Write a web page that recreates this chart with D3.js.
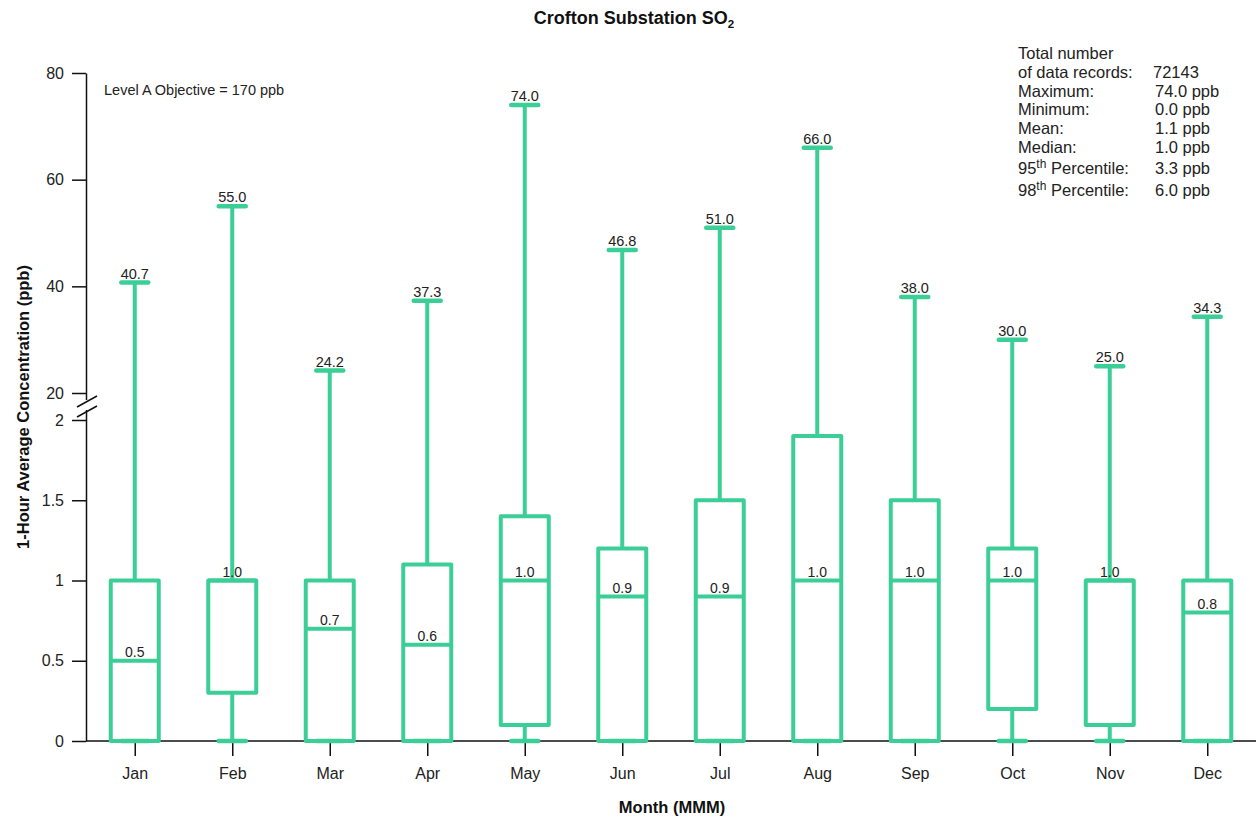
<!DOCTYPE html>
<html>
<head>
<meta charset="utf-8">
<script src="https://cdn.jsdelivr.net/npm/d3@7"></script>
<style>
  html, body { margin: 0; padding: 0; background: #fff; }
  svg { display: block; font-family: "Liberation Sans", Arial, sans-serif; }
</style>
</head>
<body>
<svg id="chart" width="1256" height="819"></svg>
<script>
// ---- data ----
const months = ["Jan","Feb","Mar","Apr","May","Jun","Jul","Aug","Sep","Oct","Nov","Dec"];
const minVals = [0,0,0,0,0,0,0,0,0,0,0,0];
const q1Vals = [0,0.3,0,0,0.1,0,0,0,0,0.2,0.1,0];
const medianVals = [0.5,1.0,0.7,0.6,1.0,0.9,0.9,1.0,1.0,1.0,1.0,0.8];
const q3Vals = [1.0,1.0,1.0,1.1,1.4,1.2,1.5,1.9,1.5,1.2,1.0,1.0];
const maxVals = [40.7,55.0,24.2,37.3,74.0,46.8,51.0,66.0,38.0,30.0,25.0,34.3];
const yTicks = [0,0.5,1,1.5,2,20,40,60,80];
const statLabels = ["Total number","of data records:","Maximum:","Minimum:","Mean:","Median:","95|th| Percentile:","98|th| Percentile:"];
const statValues = ["","72143","74.0 ppb","0.0 ppb","1.1 ppb","1.0 ppb","3.3 ppb","6.0 ppb"];
const objectiveText = "Level A Objective = 170 ppb";

// ---- layout ----
const svg = d3.select("#chart");
const left = 86, right = 1256;
const color = "#3bce96";
const textColor = "#222";

const x = d3.scalePoint().domain(months).range([left, right]).padding(0.5);
// broken axis: lower 0-2, upper 20-80
const y = d3.scaleLinear().domain([0, 2, 20, 80]).range([741, 420, 393, 73]);

const data = months.map((m, i) => ({
  m, min: minVals[i], q1: q1Vals[i], med: medianVals[i], q3: q3Vals[i], max: maxVals[i]
}));

// y axis
const yAxisG = svg.append("g").attr("transform", `translate(${left},0)`)
  .call(d3.axisLeft(y).tickValues(yTicks).tickFormat(d => String(d)).tickSize(14).tickSizeOuter(0).tickPadding(8));
yAxisG.selectAll("text").style("font-size", "16px").attr("fill", textColor);
yAxisG.selectAll("line, path").attr("stroke", "#111").attr("stroke-width", 1.5);

// axis break
svg.append("rect").attr("x", left - 4).attr("y", 400).attr("width", 8).attr("height", 10).attr("fill", "#fff");
[[0], [10]].forEach(([dy]) => {
  svg.append("line")
    .attr("x1", 77).attr("y1", 407 + dy).attr("x2", 97).attr("y2", 396 + dy)
    .attr("stroke", "#111").attr("stroke-width", 1.5);
});

// x axis
const xAxisG = svg.append("g").attr("transform", `translate(0,${y(0)})`)
  .call(d3.axisBottom(x).tickSize(15).tickSizeOuter(0).tickPadding(11.5));
xAxisG.selectAll("text").style("font-size", "16px").attr("fill", textColor);
xAxisG.selectAll("line, path").attr("stroke", "#111").attr("stroke-width", 1.5);
xAxisG.select(".domain").attr("d", `M${left},0H${right}`);

// boxes
const boxHalf = 24, capHalf = 13.5, sw = 4;
const g = svg.append("g");
const bx = g.selectAll("g.box").data(data).join("g").attr("class", "box");

bx.append("line").attr("x1", d => x(d.m)).attr("x2", d => x(d.m))
  .attr("y1", d => y(d.q3)).attr("y2", d => y(d.max))
  .attr("stroke", color).attr("stroke-width", sw);
bx.append("line").attr("x1", d => x(d.m)).attr("x2", d => x(d.m))
  .attr("y1", d => y(d.q1)).attr("y2", d => y(d.min))
  .attr("stroke", color).attr("stroke-width", sw);
bx.append("line").attr("x1", d => x(d.m) - capHalf).attr("x2", d => x(d.m) + capHalf)
  .attr("y1", d => y(d.max)).attr("y2", d => y(d.max))
  .attr("stroke", color).attr("stroke-width", sw + 0.5).attr("stroke-linecap", "round");
bx.append("line").attr("x1", d => x(d.m) - capHalf).attr("x2", d => x(d.m) + capHalf)
  .attr("y1", d => y(d.min)).attr("y2", d => y(d.min))
  .attr("stroke", color).attr("stroke-width", sw + 0.5).attr("stroke-linecap", "round");
bx.append("rect").attr("x", d => x(d.m) - boxHalf).attr("width", boxHalf * 2)
  .attr("y", d => y(d.q3)).attr("height", d => y(d.q1) - y(d.q3))
  .attr("fill", "none").attr("stroke", color).attr("stroke-width", sw).attr("stroke-linejoin", "round");
bx.append("line").attr("x1", d => x(d.m) - boxHalf).attr("x2", d => x(d.m) + boxHalf)
  .attr("y1", d => y(d.med)).attr("y2", d => y(d.med))
  .attr("stroke", color).attr("stroke-width", sw);

bx.append("text").attr("x", d => x(d.m)).attr("y", d => y(d.med) - 4)
  .attr("text-anchor", "middle").style("font-size", "14px").attr("fill", textColor)
  .text(d => d3.format(".1f")(d.med));
bx.append("text").attr("x", d => x(d.m)).attr("y", d => y(d.max) - 4)
  .attr("text-anchor", "middle").style("font-size", "14.5px").attr("fill", textColor)
  .text(d => d3.format(".1f")(d.max));

// title
const title = svg.append("text").attr("x", 634).attr("y", 24).attr("text-anchor", "middle")
  .style("font-size", "18px").style("font-weight", "bold").attr("fill", "#111");
title.append("tspan").text("Crofton Substation SO");
title.append("tspan").attr("dy", 4).style("font-size", "11.5px").text("2");

// axis titles
svg.append("text").attr("transform", `translate(29,407) rotate(-90)`).attr("text-anchor", "middle")
  .style("font-size", "16.5px").style("font-weight", "bold").attr("fill", "#111")
  .text("1-Hour Average Concentration (ppb)");
svg.append("text").attr("x", 672).attr("y", 813).attr("text-anchor", "middle")
  .style("font-size", "16.5px").style("font-weight", "bold").attr("fill", "#111")
  .text("Month (MMM)");

// objective note
svg.append("text").attr("x", 104).attr("y", 95).style("font-size", "14.5px").attr("fill", textColor)
  .text(objectiveText);

// stats block
const statY = [59, 78, 97, 115, 134, 153, 174, 196];
statLabels.forEach((lab, i) => {
  const t = svg.append("text").attr("x", 1018).attr("y", statY[i]).style("font-size", "16.5px").attr("fill", textColor);
  const parts = lab.split("|");
  if (parts.length === 3) {
    t.append("tspan").text(parts[0]);
    t.append("tspan").attr("dy", -6).style("font-size", "12px").text(parts[1]);
    t.append("tspan").attr("dy", 6).text(parts[2]);
  } else {
    t.text(lab);
  }
  if (statValues[i]) {
    svg.append("text").attr("x", i === 1 ? 1153 : 1155).attr("y", statY[i]).style("font-size", "16.5px")
      .attr("fill", textColor).text(statValues[i]);
  }
});
</script>
</body>
</html>
